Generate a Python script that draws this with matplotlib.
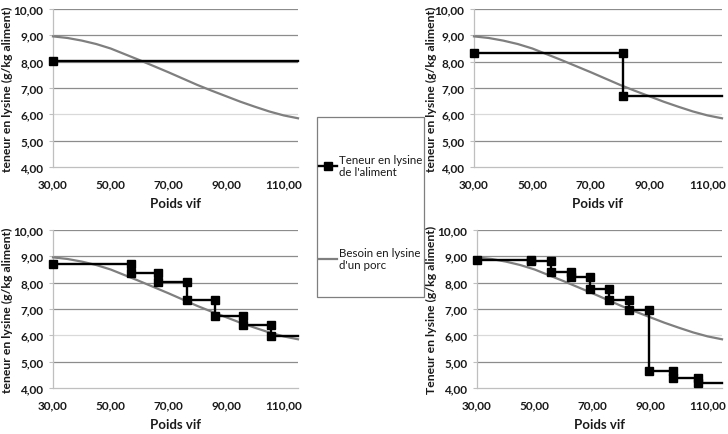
import matplotlib
matplotlib.use("Agg")
import matplotlib.pyplot as plt
from matplotlib.patches import Rectangle

plt.rcParams['font.family'] = ['Lato', 'DejaVu Sans']

# ---------------- data ----------------
weight = [30, 35, 40, 45, 50, 55, 60, 65, 70, 75, 80, 85, 90, 95, 100, 105, 110, 115]
requirement = [8.96, 8.90, 8.80, 8.67, 8.50, 8.28, 8.06, 7.83, 7.60, 7.36, 7.12,
               6.90, 6.69, 6.48, 6.29, 6.11, 5.96, 5.85]

# feeding strategies: change weights and lysine levels (one more level than changes)
tl_changes = []
tl_levels = [8.03]
tr_changes = [81.2]
tr_levels = [8.32, 6.71]
bl_changes = [57.0, 66.6, 76.4, 86.3, 96.0, 105.7]
bl_levels = [8.69, 8.35, 8.02, 7.33, 6.74, 6.41, 5.97]
br_changes = [48.7, 55.7, 62.6, 69.2, 75.9, 82.8, 89.8, 98.1, 106.6]
br_levels = [8.85, 8.83, 8.42, 8.20, 7.77, 7.36, 6.95, 4.66, 4.38, 4.20]

x_start, x_end = 30, 115
xticks = [30, 50, 70, 90, 110]
xticklabels = ["30,00", "50,00", "70,00", "90,00", "110,00"]
yticks = [4, 5, 6, 7, 8, 9, 10]
yticklabels = ["4,00", "5,00", "6,00", "7,00", "8,00", "9,00", "10,00"]

xlabel = "Poids vif"
ylabels = ["teneur en lysine (g/kg aliment)", "teneur en lysine (g/kg aliment)",
           "teneur en lysine (g/kg aliment)", "Teneur en lysine (g/kg aliment)"]
legend_labels = ["Teneur en lysine\nde l'aliment", "Besoin en lysine\nd'un porc"]

# ---------------- figure ----------------
W, H = 728, 435
fig = plt.figure(figsize=(W / 100, H / 100), dpi=100)


def fig_axes(left, top, right, bottom):
    return fig.add_axes([left / W, 1 - bottom / H, (right - left) / W, (bottom - top) / H])


panels = [
    (fig_axes(53, 10, 298, 168), tl_changes, tl_levels, -0.184),
    (fig_axes(474, 10, 722, 168), tr_changes, tr_levels, -0.17),
    (fig_axes(53, 231, 298, 389), bl_changes, bl_levels, -0.184),
    (fig_axes(477, 231, 722, 389), br_changes, br_levels, -0.184),
]

text_color = '#1a1a1a'
handles = None
for i, (ax, changes, levels, ylab_x) in enumerate(panels):
    # build step path
    xs = [x_start]
    ys = [levels[0]]
    for c, prev, nxt in zip(changes, levels[:-1], levels[1:]):
        xs += [c, c]
        ys += [prev, nxt]
    xs.append(x_end)
    ys.append(levels[-1])
    req, = ax.plot(weight, requirement, color='#7f7f7f', lw=1.6, zorder=3, clip_on=False)
    feed, = ax.plot(xs, ys, color='black', lw=1.7, marker='s', markersize=6,
                    markevery=list(range(len(xs) - 1)), zorder=4, clip_on=False)
    if handles is None:
        handles = [feed, req]

    ax.set_xlim(x_start, x_end)
    ax.set_ylim(4, 10)
    ax.set_xticks(xticks)
    ax.set_xticklabels(xticklabels)
    ax.set_yticks(yticks)
    ax.set_yticklabels(yticklabels)
    ax.tick_params(axis='x', length=0, pad=8, labelsize=8.5, labelcolor=text_color)
    ax.tick_params(axis='y', length=3, width=0.8, color='#bfbfbf', pad=4,
                   labelsize=8.5, labelcolor=text_color)
    for lab in ax.get_xticklabels() + ax.get_yticklabels():
        lab.set_fontweight('bold')
    for s in ['top', 'right']:
        ax.spines[s].set_visible(False)
    for s in ['left', 'bottom']:
        ax.spines[s].set_color('#bfbfbf')
        ax.spines[s].set_linewidth(0.9)
    ax.grid(axis='y', color='#8c8c8c', lw=0.9)
    ax.set_axisbelow(True)
    for yv, gl in zip(yticks, ax.yaxis.get_gridlines()):
        if yv == 6:
            gl.set_color('#d9d9d9')
        if yv == 4:
            gl.set_visible(False)

    ax.set_xlabel(xlabel, fontsize=9.5, fontweight='bold', color=text_color)
    ax.xaxis.label.set_va('center')
    ax.xaxis.set_label_coords(0.5, -0.225)
    ax.set_ylabel(ylabels[i], fontsize=8.8, fontweight='bold', color=text_color)
    ax.yaxis.label.set_va('center')
    ax.yaxis.set_label_coords(ylab_x, 0.5)

# legend box
rect = Rectangle((317 / W, 1 - 298 / H), (424 - 317) / W, (298 - 118) / H,
                 transform=fig.transFigure, fill=False, edgecolor='#7f7f7f', lw=0.9)
fig.add_artist(rect)
leg = fig.legend(handles, legend_labels, loc='center left',
                 bbox_to_anchor=(319 / W, 1 - 213 / H), frameon=False,
                 labelspacing=6.0, handlelength=1.6, handletextpad=0.1,
                 fontsize=8.3, borderpad=0, borderaxespad=0)
for t in leg.get_texts():
    t.set_color(text_color)

fig.savefig("out.png", dpi=100)
